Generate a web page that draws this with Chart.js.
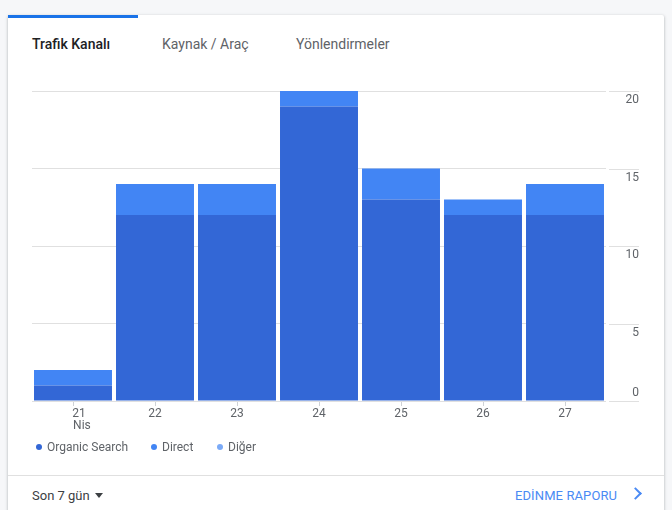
<!DOCTYPE html>
<html>
<head>
<meta charset="utf-8">
<script src="https://cdn.jsdelivr.net/npm/chart.js@4"></script>
<style>
  html, body { margin: 0; padding: 0; }
  body { width: 672px; height: 510px; background: #f6f7f9; position: relative; overflow: hidden;
         font-family: Roboto, "Noto Sans", sans-serif; }
  .card { position: absolute; left: 8px; top: 15px; width: 656px; height: 520px; background: #fff;
          border-radius: 2px; box-shadow: 0 1px 2px rgba(60,64,67,.25), 0 1px 3px 1px rgba(60,64,67,.12); }
  .bar-ind { position: absolute; left: 8px; top: 15px; width: 130px; height: 3px; background: #1a73e8; }
  .tab { position: absolute; top: 35px; font-size: 14px; line-height: 18px; color: #5f6368; }
  .tab.on { color: #202124; font-weight: 500; }
  #wrap { position: absolute; left: 0; top: 60px; width: 672px; height: 380px; }
  .legend { position: absolute; top: 439px; left: 36px; font-size: 12px; line-height: 16px; color: #5f6368; }
  .legend span { position: absolute; white-space: nowrap; }
  .legend i { display: inline-block; width: 6px; height: 6px; border-radius: 50%; margin-right: 5px; vertical-align: 1px; }
  .sep { position: absolute; left: 8px; top: 475px; width: 656px; height: 1px; background: #e0e0e0; }
  .range { position: absolute; left: 32px; top: 487px; font-size: 13px; line-height: 17px; color: #3c4043; }
  .tri { position: absolute; left: 95px; top: 493px; width: 0; height: 0;
         border-left: 4.5px solid transparent; border-right: 4.5px solid transparent; border-top: 5px solid #3c4043; }
  .link { position: absolute; left: 515px; top: 487px; font-size: 13px; line-height: 17px; color: #4a8af4; letter-spacing: 0.1px; }
  .chev { position: absolute; left: 631px; top: 489px; width: 7px; height: 7px;
          border-right: 2px solid #4a8af4; border-top: 2px solid #4a8af4; transform: rotate(45deg); }
</style>
</head>
<body>
<div class="card"></div>
<div class="bar-ind"></div>
<div class="tab on" style="left:32px">Trafik Kanalı</div>
<div class="tab" style="left:162px">Kaynak / Araç</div>
<div class="tab" style="left:296px">Yönlendirmeler</div>
<div id="wrap"><canvas id="trafficChart"></canvas></div>
<div class="legend" id="legend"></div>
<div class="sep"></div>
<div class="range">Son 7 gün</div>
<div class="tri"></div>
<div class="link">EDİNME RAPORU</div>
<div class="chev"></div>

<script>
/* ===== Data ===== */
// first label sits left-aligned on its tick in the original, padded with nbsp
const days = [['\u00a0\u00a0\u00a0\u00a021', '\u00a0\u00a0\u00a0\u00a0\u00a0\u00a0Nis'], '22', '23', '24', '25', '26', '27'];
const organicSearch = [1, 12, 12, 19, 13, 12, 12];
const direct = [1, 2, 2, 1, 2, 1, 2];
const diger = [0, 0, 0, 0, 0, 0, 0];
const yTicks = [0, 5, 10, 15, 20];

const colors = {
  organic: '#3367d6',
  direct: '#4285f4',
  diger: '#7baaf7'
};

/* ===== HTML legend ===== */
const legendItems = [
  { label: 'Organic Search', color: colors.organic, x: 0 },
  { label: 'Direct', color: colors.direct, x: 115 },
  { label: 'Diğer', color: colors.diger, x: 181 }
];
const legendEl = document.getElementById('legend');
legendItems.forEach(it => {
  const s = document.createElement('span');
  s.style.left = it.x + 'px';
  s.innerHTML = '<i style="background:' + it.color + '"></i>' + it.label;
  legendEl.appendChild(s);
});

/* ===== y labels + detached tick segments, drawn from the y scale ===== */
const yLabelsPlugin = {
  id: 'yLabels',
  afterDraw(chart) {
    const ctx = chart.ctx;
    const y = chart.scales.y;
    const x0 = chart.chartArea.right + 3;
    const x1 = x0 + 30;
    ctx.save();
    ctx.font = '12px Roboto, "Noto Sans", sans-serif';
    ctx.fillStyle = '#5f6368';
    ctx.textAlign = 'right';
    ctx.textBaseline = 'middle';
    yTicks.forEach(v => {
      const py = Math.round(y.getPixelForValue(v)) + 0.5;
      ctx.strokeStyle = '#e0e0e0';
      ctx.lineWidth = 1;
      ctx.beginPath();
      ctx.moveTo(x0, py);
      ctx.lineTo(x1, py);
      ctx.stroke();
      ctx.fillText(String(v), x1, v === 0 ? py - 9 : py + 8);
    });
    ctx.restore();
  }
};

const ctx = document.getElementById('trafficChart').getContext('2d');
const chart = new Chart(ctx, {
  type: 'bar',
  data: {
    labels: days,
    datasets: [
      { label: 'Organic Search', data: organicSearch, backgroundColor: colors.organic },
      { label: 'Direct', data: direct, backgroundColor: colors.direct },
      { label: 'Diğer', data: diger, backgroundColor: colors.diger }
    ]
  },
  options: {
    responsive: true,
    maintainAspectRatio: false,
    animation: false,
    layout: { padding: { left: 32, top: 31, right: 0, bottom: 9 } },
    datasets: { bar: { barPercentage: 0.951, categoryPercentage: 1, borderWidth: 0 } },
    plugins: {
      legend: { display: false },
      tooltip: { enabled: false }
    },
    scales: {
      x: {
        stacked: true,
        border: { display: false },
        grid: { display: true, drawOnChartArea: false, offset: false, tickLength: 5, tickColor: '#cfd2d6' },
        ticks: {
          color: '#5f6368', padding: 2, maxRotation: 0,
          font: { family: 'Roboto', size: 12, lineHeight: 1 }
        },
        afterFit(scale) { scale.height = 30; }
      },
      y: {
        stacked: true,
        position: 'right',
        min: 0,
        max: 20,
        border: { display: false },
        grid: { color: '#e0e0e0', drawTicks: false },
        ticks: { stepSize: 5, display: false },
        afterFit(scale) { scale.width = 66; }
      }
    }
  },
  plugins: [yLabelsPlugin]
});
</script>
</body>
</html>
